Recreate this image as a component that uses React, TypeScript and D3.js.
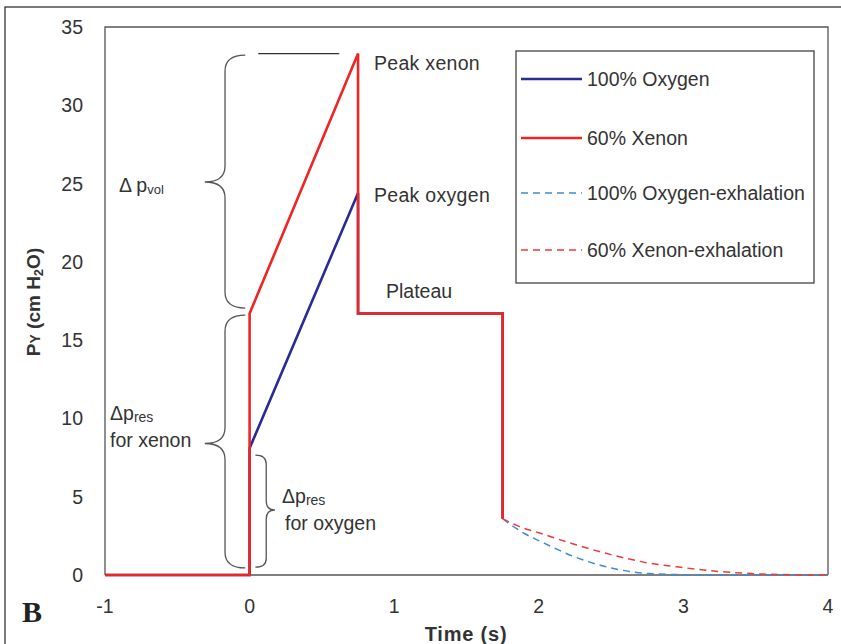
import React from "react";
import * as d3 from "d3";

const W = 841;
const H = 644;

// series values [time (s), pressure (cm H2O)]
const xenonInsp: [number, number][] = [[-1, 0], [0, 0], [0, 16.7], [0.75, 33.3], [0.75, 16.7], [1.75, 16.7], [1.75, 3.6]];
const oxygenInsp: [number, number][] = [[-1, 0], [0, 0], [0, 8.1], [0.75, 24.4], [0.75, 16.7], [1.75, 16.7], [1.75, 3.6]];
const xenonExh: [number, number][] = [[1.75, 3.6], [1.85, 3.15], [2.0, 2.7], [2.25, 1.95], [2.5, 1.3], [2.75, 0.78], [3.0, 0.47], [3.25, 0.22], [3.5, 0.08], [3.75, 0.02], [4.0, 0]];
const oxygenExh: [number, number][] = [[1.75, 3.6], [1.9, 2.65], [2.0, 2.2], [2.25, 1.15], [2.5, 0.45], [2.75, 0.1], [3.0, 0.02], [3.5, 0], [4.0, 0]];

const xTicks = [-1, 0, 1, 2, 3, 4];
const yTicks = [0, 5, 10, 15, 20, 25, 30, 35];

const legendItems = [
  { label: "100% Oxygen", color: "#2b2b96", dash: "", width: 2.6 },
  { label: "60% Xenon", color: "#ee2525", dash: "", width: 2.6 },
  { label: "100% Oxygen-exhalation", color: "#3d8ad6", dash: "7,5", width: 1.4 },
  { label: "60% Xenon-exhalation", color: "#f03a3a", dash: "7,5", width: 1.4 },
];

// braces: [x end, x spine, x tip, y top, y bottom, y tip, radius] in data units (radius in px)
const braces: [number, number, number, number, number, number, number][] = [
  [-0.03, -0.17, -0.31, 33.2, 17.05, 25.1, 16],
  [-0.03, -0.17, -0.31, 16.6, 0.45, 8.4, 16],
  [0.04, 0.115, 0.175, 7.66, 0.5, 4.15, 9],
];

const x = d3.scaleLinear().domain([-1, 4]).range([105, 828]);
const y = d3.scaleLinear().domain([0, 35]).range([575, 27]);

const line = d3
  .line<[number, number]>()
  .x((d) => x(d[0]))
  .y((d) => y(d[1]));

const smooth = d3
  .line<[number, number]>()
  .x((d) => x(d[0]))
  .y((d) => y(d[1]))
  .curve(d3.curveMonotoneX);

function bracePath(b: [number, number, number, number, number, number, number]) {
  const [xe, xs, xt, yt, yb, ym, r] = b;
  const XE = x(xe), XS = x(xs), XT = x(xt), YT = y(yt), YB = y(yb), YM = y(ym);
  return [
    `M${XE},${YT}`,
    `Q${XS},${YT} ${XS},${YT + r}`,
    `L${XS},${YM - r}`,
    `Q${XS},${YM} ${XT},${YM}`,
    `Q${XS},${YM} ${XS},${YM + r}`,
    `L${XS},${YB - r}`,
    `Q${XS},${YB} ${XE},${YB}`,
  ].join(" ");
}

const font = "'Liberation Sans', Arial, sans-serif";
const txt = "#333";

export default function App() {
  return (
    <svg width={W} height={H} style={{ position: "absolute", left: 0, top: 0, background: "#fff" }} fontFamily={font}>
      <rect x={0} y={0} width={W} height={H} fill="#fff" />
      {/* outer figure frame */}
      <rect x={5} y={7} width={900} height={700} fill="none" stroke="#333" strokeWidth={1.3} />

      {/* plot frame */}
      <path d={`M${x(-1)},${y(0)} L${x(-1)},${y(35)} L${x(4)},${y(35)} L${x(4)},${y(0)}`} fill="none" stroke="#555" strokeWidth={1.3} />
      <line x1={x(-1)} x2={x(4)} y1={y(0)} y2={y(0)} stroke="#555" strokeWidth={1.6} />

      {/* y ticks */}
      {yTicks.map((t) => (
        <text key={"y" + t} x={83} y={y(t)} dy="0.36em" textAnchor="end" fontSize={19.5} fill={txt}>
          {t}
        </text>
      ))}
      {/* x ticks */}
      {xTicks.map((t) => (
        <text key={"x" + t} x={x(t)} y={613} textAnchor="middle" fontSize={19.5} fill={txt}>
          {t}
        </text>
      ))}

      {/* axis titles */}
      <text x={466} y={641} textAnchor="middle" fontSize={20} fontWeight="bold" fill={txt} letterSpacing={0.8}>
        Time (s)
      </text>
      <text transform="translate(40,302) rotate(-90)" textAnchor="middle" fontSize={19} fontWeight="bold" fill={txt}>
        P<tspan fontSize={14}>Y</tspan> (cm H<tspan fontSize={13} dy={3}>2</tspan><tspan dy={-3}>O)</tspan>
      </text>

      {/* panel letter */}
      <text x={22} y={622} fontFamily="'Liberation Serif', 'Times New Roman', serif" fontWeight="bold" fontSize={30} fill="#222">
        B
      </text>

      {/* series */}
      <path d={line(oxygenInsp) ?? ""} fill="none" stroke="#2b2b96" strokeWidth={2.6} />
      <path d={line(xenonInsp) ?? ""} fill="none" stroke="#ee2525" strokeWidth={2.6} />
      <path d={smooth(oxygenExh) ?? ""} fill="none" stroke="#3d8ad6" strokeWidth={1.5} strokeDasharray="7,5" />
      <path d={smooth(xenonExh) ?? ""} fill="none" stroke="#f03a3a" strokeWidth={1.5} strokeDasharray="7,5" />

      {/* braces and peak marker */}
      {braces.map((b, i) => (
        <path key={"b" + i} d={bracePath(b)} fill="none" stroke="#555" strokeWidth={1.3} />
      ))}
      <line x1={x(0.06)} x2={x(0.62)} y1={y(33.3)} y2={y(33.3)} stroke="#333" strokeWidth={1.3} />

      {/* annotations */}
      <text x={374} y={70} fontSize={19.5} fill={txt} letterSpacing={0.3}>Peak xenon</text>
      <text x={374} y={202} fontSize={19.5} fill={txt} letterSpacing={0.3}>Peak oxygen</text>
      <text x={386} y={298} fontSize={19.5} fill={txt}>Plateau</text>

      <text x={119} y={192} fontSize={19.5} fill={txt}>
        Δ p<tspan fontSize={13} dy={2}>vol</tspan>
      </text>
      <text x={110} y={420} fontSize={19.5} fill={txt}>
        Δp<tspan fontSize={14} dy={2}>res</tspan>
      </text>
      <text x={110} y={447} fontSize={19.5} fill={txt}>for xenon</text>
      <text x={282} y={503} fontSize={19.5} fill={txt}>
        Δp<tspan fontSize={14} dy={2}>res</tspan>
      </text>
      <text x={285} y={530} fontSize={19.5} fill={txt}>for oxygen</text>

      {/* legend */}
      <rect x={516} y={51} width={298} height={232} fill="#fff" stroke="#444" strokeWidth={1.3} />
      {legendItems.map((it, i) => {
        const ly = [79, 138, 193, 250][i];
        return (
          <g key={it.label}>
            <line x1={521} x2={582} y1={ly} y2={ly} stroke={it.color} strokeWidth={it.width} strokeDasharray={it.dash} />
            <text x={587} y={ly} dy="0.36em" fontSize={19.5} fill={txt}>
              {it.label}
            </text>
          </g>
        );
      })}
    </svg>
  );
}
